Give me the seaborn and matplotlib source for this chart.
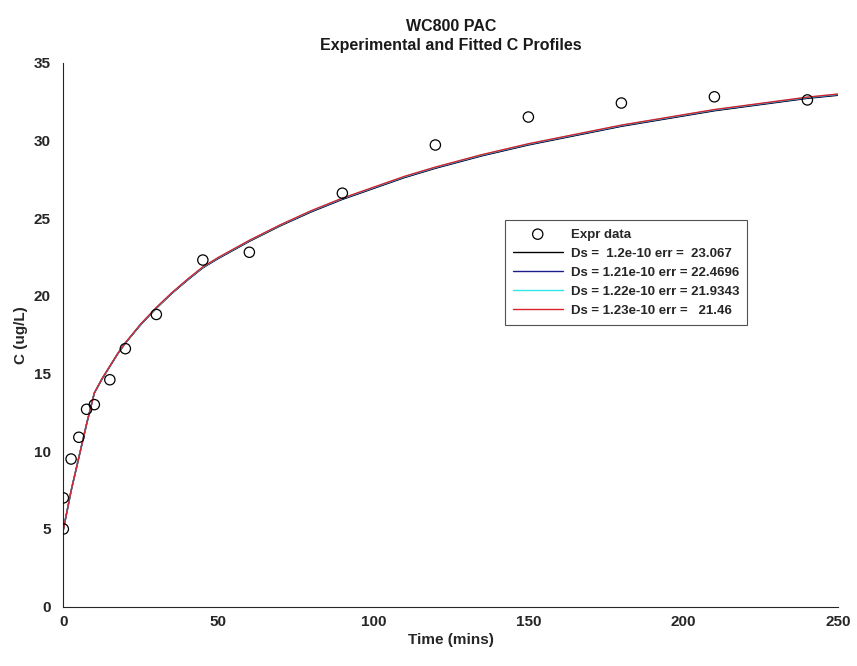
import matplotlib
matplotlib.use("Agg")
import matplotlib.pyplot as plt
import seaborn as sns
import pandas as pd

# ---- data ----
t_expr = [0, 0, 2.5, 5, 7.5, 10, 15, 20, 30, 45, 60, 90, 120, 150, 180, 210, 240]
c_expr = [5.0, 7.0, 9.5, 10.9, 12.7, 13.0, 14.6, 16.6, 18.8, 22.3, 22.8, 26.6, 29.7, 31.5, 32.4, 32.8, 32.6]

t_fit = [0, 2.5, 5, 7.5, 10, 12.5, 15, 17.5, 20, 25, 30, 35, 40, 45, 50, 60, 70, 80,
         90, 100, 110, 120, 135, 150, 165, 180, 195, 210, 225, 240, 250]
c_fit_120 = [4.95, 7.45, 9.6, 11.75, 13.75, 14.65, 15.45, 16.25, 16.95, 18.15, 19.2, 20.15, 21.0,
             21.8, 22.4, 23.5, 24.5, 25.4, 26.2, 26.9, 27.6, 28.2, 29.0, 29.7, 30.3, 30.9,
             31.4, 31.9, 32.3, 32.7, 32.9]
c_fit_121 = [4.95, 7.45, 9.6, 11.75, 13.75, 14.66, 15.46, 16.26, 16.96, 18.16, 19.22, 20.17, 21.02,
             21.82, 22.43, 23.53, 24.53, 25.43, 26.23, 26.93, 27.63, 28.23, 29.03, 29.73, 30.33,
             30.93, 31.43, 31.93, 32.33, 32.73, 32.93]
c_fit_122 = [4.95, 7.45, 9.6, 11.75, 13.75, 14.67, 15.47, 16.27, 16.97, 18.18, 19.23, 20.18, 21.04,
             21.84, 22.45, 23.55, 24.55, 25.46, 26.26, 26.96, 27.66, 28.26, 29.06, 29.76, 30.36,
             30.96, 31.46, 31.96, 32.36, 32.76, 32.96]
c_fit_123 = [4.95, 7.45, 9.6, 11.75, 13.75, 14.68, 15.48, 16.28, 16.98, 18.2, 19.25, 20.2, 21.06,
             21.86, 22.47, 23.57, 24.57, 25.48, 26.28, 26.98, 27.68, 28.28, 29.08, 29.78, 30.38,
             30.98, 31.48, 31.98, 32.38, 32.78, 32.98]

fit_labels = ["Ds =  1.2e-10 err =  23.067",
              "Ds = 1.21e-10 err = 22.4696",
              "Ds = 1.22e-10 err = 21.9343",
              "Ds = 1.23e-10 err =   21.46"]
fit_colors = ["#000000", "#1c1c8c", "#2ee6e6", "#d8202c"]
x_ticks = [0, 50, 100, 150, 200, 250]
y_ticks = [0, 5, 10, 15, 20, 25, 30, 35]

# ---- style ----
sns.set_style("white")
plt.rcParams["font.family"] = ["Liberation Sans", "DejaVu Sans"]
plt.rcParams["font.weight"] = "bold"

fig = plt.figure(figsize=(8.57, 6.66), dpi=100)
ax = fig.add_axes([0.0739, 0.089, 0.9044, 0.817])

df_expr = pd.DataFrame({"t": t_expr, "c": c_expr})
sns.scatterplot(data=df_expr, x="t", y="c", ax=ax, marker="o", s=55,
                facecolors="none", edgecolor="black", linewidth=0.9, zorder=3,
                label="Expr data")

for vals, lab, col in zip([c_fit_120, c_fit_121, c_fit_122, c_fit_123], fit_labels, fit_colors):
    sns.lineplot(x=t_fit, y=vals, ax=ax, color=col, linewidth=1.0, label=lab,
                 sort=False, zorder=2)

ax.set_xlim(0, 250)
ax.set_ylim(0, 35)
ax.set_xticks(x_ticks)
ax.set_yticks(y_ticks)
ax.tick_params(direction="in", length=6, width=0.8, colors="#262626",
               labelsize=11)
ax.tick_params(axis="y", pad=9)
ax.tick_params(axis="x", pad=6)
for lbl in ax.get_xticklabels() + ax.get_yticklabels():
    lbl.set_fontweight("bold")
    lbl.set_color("#262626")
for side in ["top", "right"]:
    ax.spines[side].set_visible(False)
for side in ["left", "bottom"]:
    ax.spines[side].set_color("#262626")
    ax.spines[side].set_linewidth(0.8)

ax.set_xlabel("Time (mins)", fontsize=11, fontweight="bold", color="#262626", labelpad=3)
ax.set_ylabel("C (ug/L)", fontsize=11, fontweight="bold", color="#262626", labelpad=4)
ax.set_title("WC800 PAC\nExperimental and Fitted C Profiles", fontsize=11.5,
             fontweight="bold", color="#1a1a1a", pad=9, linespacing=1.35)

leg = ax.legend(loc="upper left", bbox_to_anchor=(0.561, 0.722), frameon=True,
                fancybox=False, edgecolor="#262626", fontsize=9.5, handlelength=3.8,
                borderpad=0.6, labelspacing=0.52, handletextpad=0.6)
leg.get_frame().set_linewidth(0.8)
for txt in leg.get_texts():
    txt.set_fontweight("bold")

fig.savefig("out.png", dpi=100, facecolor="white")
